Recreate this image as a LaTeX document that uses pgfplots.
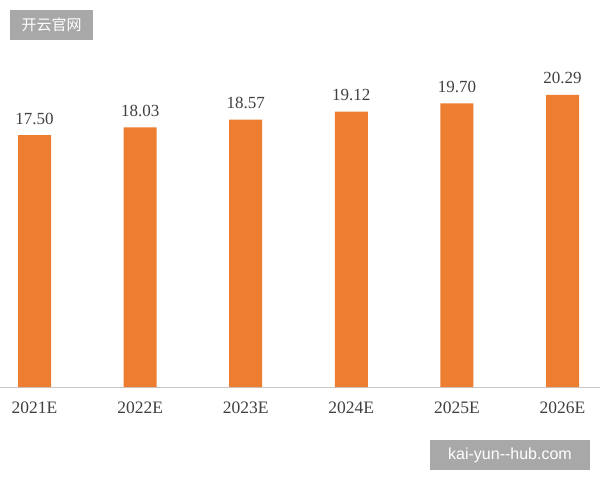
\documentclass[border=0pt]{standalone}
\usepackage{pgfplots}
\pgfplotsset{compat=1.18}
\usepackage{fontspec}
\setmainfont{Liberation Serif}
\newfontfamily\cjk{Noto Sans CJK SC}
\newfontfamily\wm{Liberation Sans}
\definecolor{barorange}{HTML}{ED7D31}
\definecolor{axisgray}{HTML}{C8C8C8}
\definecolor{txtgray}{HTML}{404040}
\definecolor{wmgray}{HTML}{A8A8A8}
\begin{document}
\begin{tikzpicture}[x=1pt,y=1pt]
\path[use as bounding box] (0,0) rectangle (600,480);
\begin{axis}[
  at={(0pt,93pt)}, anchor=south west,
  scale only axis, width=600pt, height=360pt,
  xmin=-0.327, xmax=5.355, ymin=0, ymax=25,
  axis y line=none, axis x line*=bottom,
  x axis line style={draw=axisgray, line width=1pt, -},
  xtick={0,1,2,3,4,5},
  xticklabels={2021E,2022E,2023E,2024E,2025E,2026E},
  major tick length=0pt,
  xticklabel style={anchor=north, inner sep=0pt, yshift=-15pt, font=\fontsize{17.5}{20}\selectfont, text=txtgray},
  ybar, bar width=33pt,
  nodes near coords, point meta=explicit symbolic,
  every node near coord/.style={anchor=south, inner sep=0pt, yshift=10.5pt, font=\fontsize{17}{20}\selectfont, text=txtgray},
  clip=false,
]
\addplot[fill=barorange, draw=none] table[meta=label] {
x y label
0 17.50 17.50
1 18.03 18.03
2 18.57 18.57
3 19.12 19.12
4 19.70 19.70
5 20.29 20.29
};
\end{axis}
\fill[wmgray] (10,440) rectangle (93,470);
\node[text=white, font=\cjk\fontsize{15}{17}\selectfont, inner sep=0pt] at (51.5,455) {开云官网};
\fill[wmgray] (430,10) rectangle (590,40);
\node[text=white, font=\wm\fontsize{16}{18}\selectfont, inner sep=0pt] at (510,25) {kai-yun--hub.com};
\end{tikzpicture}
\end{document}
